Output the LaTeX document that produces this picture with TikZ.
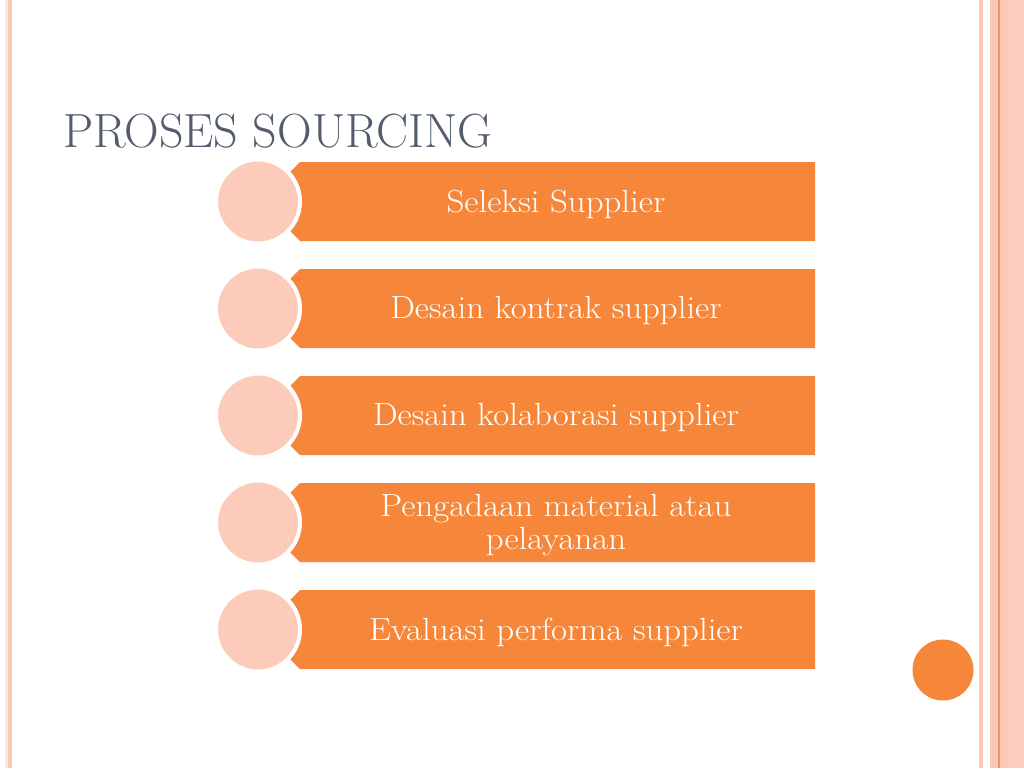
\documentclass[tikz,border=0pt]{standalone}
\usepackage{fontspec}
\newfontfamily\boxfont{Latin Modern Roman}[FakeStretch=1.09]
\definecolor{orangebox}{RGB}{246,135,58}
\definecolor{pinkc}{RGB}{252,203,186}
\definecolor{titlec}{RGB}{82,92,108}
\definecolor{creamc}{RGB}{250,232,220}
\definecolor{stripe}{RGB}{252,200,182}
\definecolor{stripeb}{RGB}{253,206,190}
\definecolor{darkline}{RGB}{232,150,110}
\tikzset{
  bullet/.style={circle, fill=pinkc, draw=white, line width=4pt, minimum size=84pt, inner sep=0pt},
  boxtext/.style={text=white, font=\boxfont\fontsize{32}{33}\selectfont, align=center, inner sep=0pt},
}
\begin{document}
\begin{tikzpicture}[x=1pt,y=-1pt]
\useasboundingbox (0,0) rectangle (1024,768);
\fill[white] (0,0) rectangle (1024,768);
% left border
\fill[creamc] (5,0) rectangle (8,768);
\fill[stripe] (8,0) rectangle (12,768);
% right border
\fill[stripe] (979,0) rectangle (983,768);
\fill[stripe] (990,0) rectangle (998,768);
\fill[darkline] (998,0) rectangle (999.5,768);
\fill[stripe] (999.5,0) rectangle (1008,768);
\fill[stripeb] (1008,0) rectangle (1024,768);
% title
\node (title) [anchor=base west, text=titlec, font=\fontsize{48}{50}\selectfont, inner sep=0pt] at (63,147) {PROSES SOURCING};
% items
\foreach \i/\t in {1/{Seleksi Supplier},2/{Desain kontrak supplier},3/{Desain kolaborasi supplier},4/{Pengadaan material atau\\pelayanan},5/{Evaluasi performa supplier}}{
  \pgfmathsetmacro{\top}{162+107*(\i-1)}
  \pgfmathsetmacro{\bot}{\top+79}
  \pgfmathsetmacro{\mid}{\top+39.5}
  \fill[orangebox] (300,\top) -- (815,\top) -- (815,\bot) -- (300,\bot) -- (289,\bot-11) -- (289,\top+11) -- cycle;
  \node (c\i) [bullet] at (258,\mid) {};
  \node (b\i) [boxtext] at (556,\mid+2.5) {\t};
}
% corner dot
\node (dot) [circle, fill=orangebox, minimum size=61pt, inner sep=0pt] at (943,670) {};
\end{tikzpicture}
\end{document}
